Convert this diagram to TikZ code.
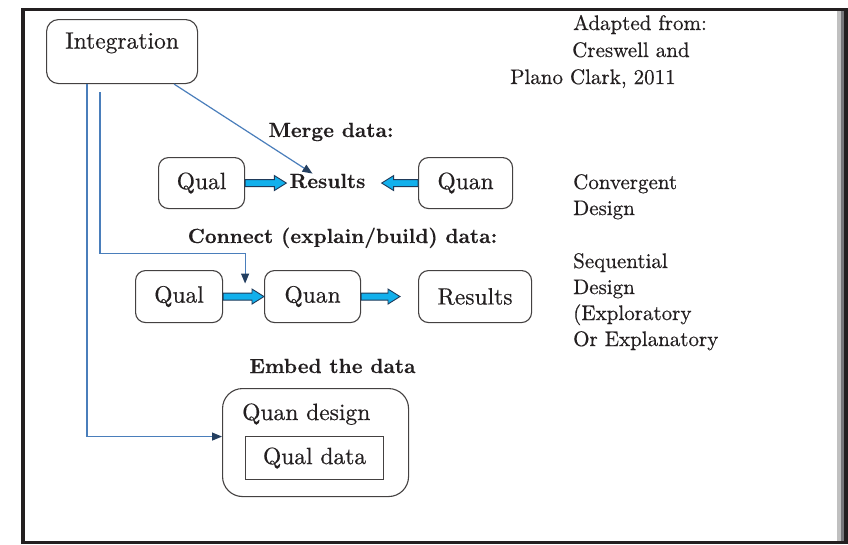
\documentclass[tikz,border=0pt]{standalone}
\usepackage{fontspec}
\setmainfont{lmroman10-regular.otf}[UprightFeatures={FakeBold=0.5}, BoldFont=lmroman10-bold.otf, BoldFeatures={FakeBold=0.2}]
\usetikzlibrary{calc,arrows.meta}
\definecolor{ink}{HTML}{231F20}
\definecolor{lineblue}{HTML}{4A7EBB}
\definecolor{tipdark}{HTML}{243F60}
\definecolor{cyanfill}{HTML}{12B0EC}
\definecolor{arrowedge}{HTML}{1F3A5A}
\definecolor{graylight}{HTML}{C0C0C0}
\definecolor{graymid}{HTML}{77777B}
\newcommand\barrR[2]{%
  \draw[blockarrow] let \p1=#1, \p2=#2 in
  (\x1,\y1+3.5pt) -- (\x2-12pt,\y1+3.5pt) -- (\x2-12pt,\y1+7.5pt) -- (\x2,\y1)
  -- (\x2-12pt,\y1-7.5pt) -- (\x2-12pt,\y1-3.5pt) -- (\x1,\y1-3.5pt) -- cycle;}
\newcommand\barrL[2]{%
  \draw[blockarrow] let \p1=#1, \p2=#2 in
  (\x1,\y1+3.5pt) -- (\x2+12pt,\y1+3.5pt) -- (\x2+12pt,\y1+7.5pt) -- (\x2,\y1)
  -- (\x2+12pt,\y1-7.5pt) -- (\x2+12pt,\y1-3.5pt) -- (\x1,\y1-3.5pt) -- cycle;}
\tikzset{
  txt/.style={font=\fontsize{23.5}{28}\selectfont, text=ink},
  box/.style={txt, draw=ink!85, line width=1.1pt, rounded corners=10pt, inner sep=0pt, anchor=north west},
  head/.style={font=\fontsize{20.5}{24}\selectfont\bfseries, text=ink, inner sep=0pt, anchor=base},
  side/.style={font=\fontsize{21}{26}\selectfont, text=ink, inner sep=0pt, anchor=base west},
  conn/.style={draw=lineblue, line width=1.2pt, -{Triangle[length=10pt,width=8pt,color=tipdark]}},
  blockarrow/.style={fill=cyanfill, draw=arrowedge, line width=0.9pt, line join=miter},
}
\begin{document}
\begin{tikzpicture}[x=1pt,y=-1pt]
\useasboundingbox (0,0) rectangle (848,544);
\fill[white] (0,0) rectangle (848,544);
% frame
\fill[ink] (21,8) rectangle (848,11);
\fill[ink] (21,8) rectangle (25,544);
\fill[ink] (21,541) rectangle (848,544);
\fill[graylight] (837,11) rectangle (841,541);
\fill[graymid] (841,11) rectangle (844,541);
\fill[ink] (844,8) rectangle (848,544);

% nodes
\node[box, minimum width=151pt, minimum height=64pt, text height=21pt, text depth=27pt, inner ysep=8pt, rounded corners=12pt] (int) at (46,19) {Integration};

\node[side] (a1) at (573,30) {Adapted from:};
\node[side] (a2) at (572,57) {Creswell and};
\node[side] (a3) at (510,84) {Plano Clark, 2011};

\node[head] (h1) at (331,137) {Merge data:};
\node[box, minimum width=86pt, minimum height=51pt] (q1) at (158,157) {Qual};
\node[head] (r1) at (327.5,188) {Results};
\node[box, minimum width=94pt, minimum height=51pt] (n1) at (418,157) {Quan};

\node[side] (c1) at (573,189) {Convergent};
\node[side] (c2) at (573,215) {Design};

\node[head] (h2) at (342.5,243) {Connect (explain/build) data:};
\node[box, minimum width=87pt, minimum height=52pt] (q2) at (135,270) {Qual};
\node[box, minimum width=96pt, minimum height=52pt] (n2) at (264,270) {Quan};
\node[box, minimum width=113pt, minimum height=52pt] (r2) at (418,270) {Results};

\node[side] (s1) at (573,268) {Sequential};
\node[side] (s2) at (573,294) {Design};
\node[side] (s3) at (573,320) {(Exploratory};
\node[side] (s4) at (573,346) {Or Explanatory};

\node[head] (h3) at (332.5,373) {Embed the data};
\node[box, minimum width=186pt, minimum height=108pt, rounded corners=20pt] (qd) at (222,388) {};
\node[txt, anchor=base west, inner sep=0pt] (qdt) at (242,420) {Quan design};
\node[txt, draw=ink!85, line width=1.1pt, minimum width=138pt, minimum height=43pt, inner sep=0pt, anchor=north west] (qdat) at (245,436) {Qual data};

% block arrows
\barrR{(q1.east)}{($(r1.west)+(-3,0)$)}
\barrL{(n1.west)}{($(r1.east)+(16,0)$)}
\barrR{(q2.east)}{(n2.west)}
\barrR{(n2.east)}{($(r2.west)+(-18,0)$)}

% connectors
\coordinate (dtip) at ($(r1.north)+(-15,0)$);
\draw[conn] ($(int.south east)+(-24,0)$) -- (dtip);
\coordinate (ctip) at ($(q2.east)+(22,-13)$);
\draw[conn] ($(int.south west)+(54,8)$) |- ($(ctip)+(0,-30)$) -- (ctip);
\draw[conn] ($(int.south west)+(41,0)$) |- ($(qd.west)+(0,-6)$);
\end{tikzpicture}
\end{document}
